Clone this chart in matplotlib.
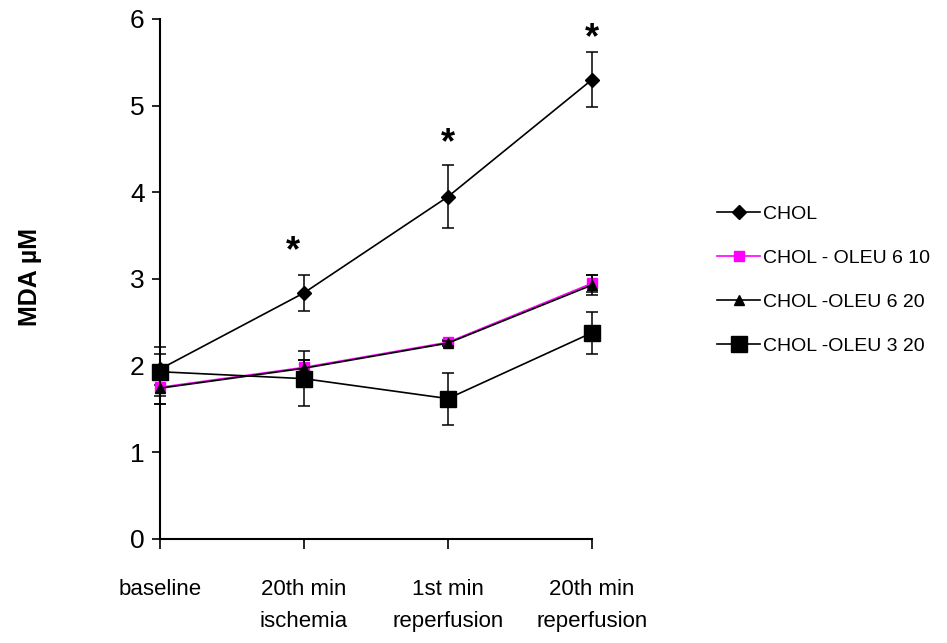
import matplotlib.pyplot as plt
from matplotlib.lines import Line2D

plt.rcParams['font.family'] = ['Liberation Sans', 'DejaVu Sans']

# Категории по оси X
categories = ['baseline', '20th min\nischemia', '1st min\nreperfusion', '20th min\nreperfusion']

# Средние значения MDA и ошибки
chol = [1.96, 2.84, 3.95, 5.30]
chol_err = [0.18, 0.21, 0.36, 0.32]
oleu_6_10 = [1.75, 1.98, 2.27, 2.95]
oleu_6_10_err = [0.19, 0.08, 0.03, 0.10]
oleu_6_20 = [1.74, 1.97, 2.26, 2.93]
oleu_6_20_err = [0.18, 0.10, 0.03, 0.12]
oleu_3_20 = [1.93, 1.85, 1.62, 2.38]
oleu_3_20_err = [0.28, 0.32, 0.30, 0.24]

# Звёздочки значимости (индекс точки, высота)
star_idx = [1, 2, 3]
star_y = [3.32, 4.56, 5.77]

x = list(range(len(categories)))

fig = plt.figure(figsize=(9.47, 6.43), dpi=100)
ax = fig.add_axes([160 / 947, 1 - 539 / 643, 432 / 947, 520 / 643])

styles = [
    (chol, chol_err, 'CHOL', dict(color='black', marker='D', markersize=7, mfc='black', mec='black'), 3),
    (oleu_6_10, oleu_6_10_err, 'CHOL - OLEU 6 10', dict(color='magenta', marker='s', markersize=7, mfc='magenta', mec='magenta'), 3),
    (oleu_6_20, oleu_6_20_err, 'CHOL -OLEU 6 20', dict(color='black', marker='^', markersize=7, mfc='black', mec='black'), 4),
    (oleu_3_20, oleu_3_20_err, 'CHOL -OLEU 3 20', dict(color='black', marker='s', markersize=11, mfc='black', mec='black'), 5),
]

handles = []
for vals, err, lab, st, z in styles:
    ax.errorbar(x, vals, yerr=err, ecolor='black', lw=1.2, capsize=4, elinewidth=1.1,
                capthick=1.1, clip_on=False, zorder=z, **st)
    handles.append(Line2D([], [], lw=1.2, label=lab, **st))

for i, sy in zip(star_idx, star_y):
    ax.text(x[i] - (0.08 if i == 1 else 0), sy, '*', ha='center', va='center',
            fontsize=26, fontweight='bold')

ax.set_xlim(0, 3)
ax.set_ylim(0, 6)
ax.set_xticks(x)
ax.set_xticklabels(categories, fontsize=16, linespacing=1.7)
ax.set_yticks(range(0, 7))
ax.tick_params(axis='y', labelsize=19, direction='out', length=6, width=1.2, pad=5)
ax.tick_params(axis='x', direction='out', length=7, width=1.2, pad=22)
for s in ['top', 'right']:
    ax.spines[s].set_visible(False)
for s in ['left', 'bottom']:
    ax.spines[s].set_linewidth(1.5)

fig.text(30 / 947, 1 - 277 / 643, 'MDA µM', rotation=90, ha='center', va='center',
         fontsize=18, fontweight='bold')

ax.legend(handles=handles, loc='center left', bbox_to_anchor=(1.29, 0.498), frameon=False,
          fontsize=14, handlelength=2.2, labelspacing=1.35, handletextpad=0.15,
          borderaxespad=0, borderpad=0)

fig.savefig('out.png', dpi=100)
